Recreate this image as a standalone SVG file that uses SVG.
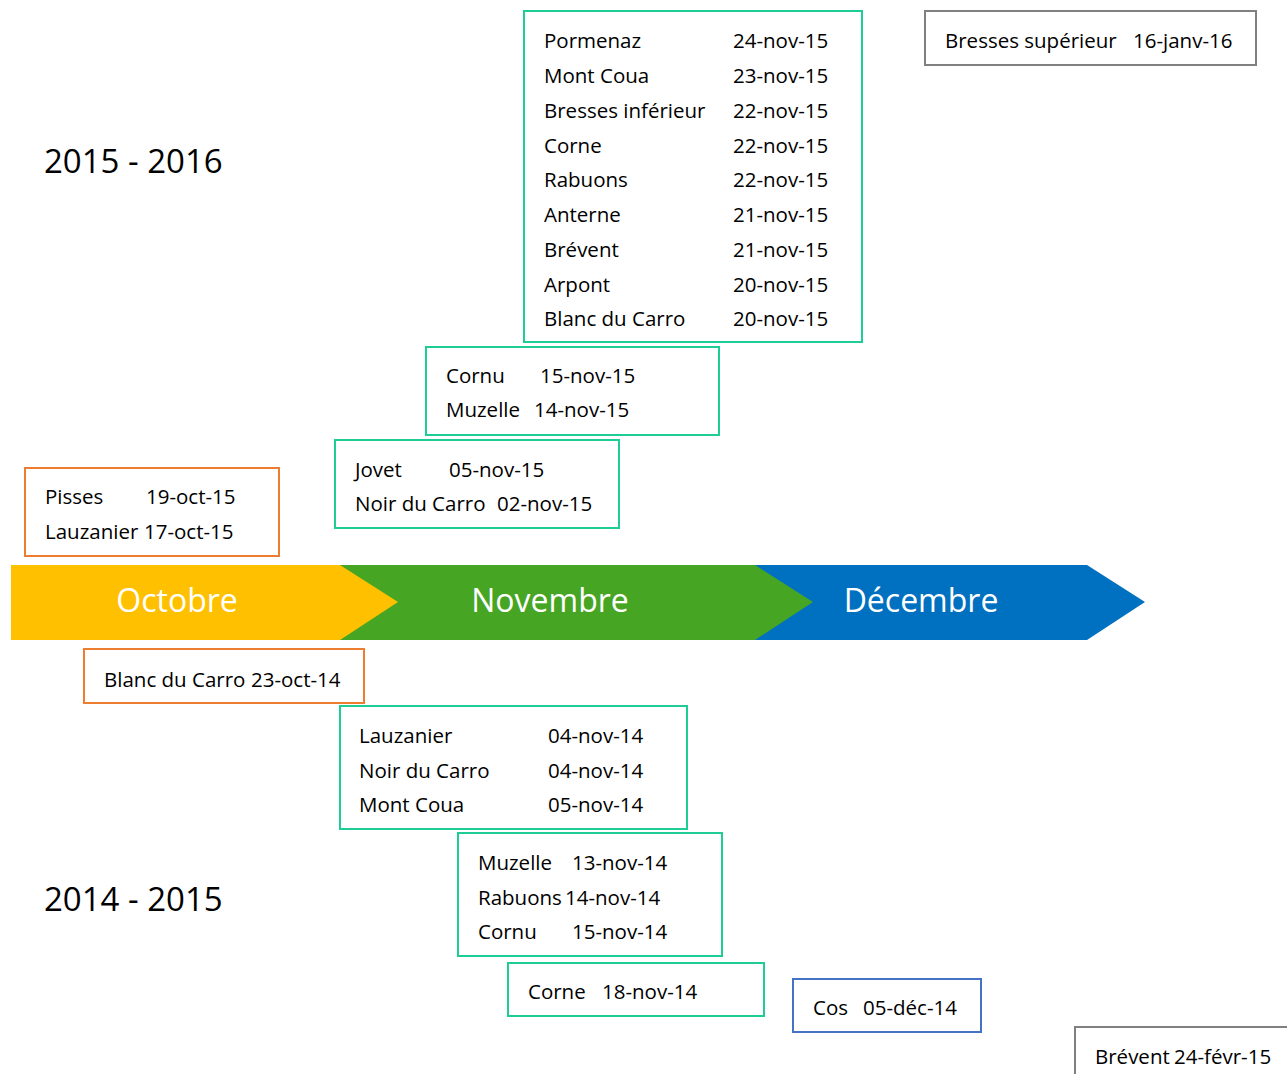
<svg xmlns="http://www.w3.org/2000/svg" width="1287" height="1074" viewBox="0 0 1287 1074">
<style>
text{font-family:"Open Sans","Noto Sans",sans-serif;font-size:20.5px;fill:#000}
.box{fill:#fff;stroke-width:2}
.teal{stroke:#1ECC96}
.orange{stroke:#ED7D31}
.blue{stroke:#4472C4}
.gray{stroke:#808080}
.year{font-size:33px}
.month{font-size:32px;fill:#fff;text-anchor:middle}
</style>
<rect width="1287" height="1074" fill="#fff"/>
<text class="year" x="44" y="173">2015 - 2016</text>
<text class="year" x="44" y="911">2014 - 2015</text>
<g id="timeline">
<g id="decembre"><polygon points="755,565 1087,565 1145,602 1087,640 755,640" fill="#0070C0"/><text class="month" x="921" y="612">Décembre</text></g>
<g id="novembre"><polygon points="340,565 755,565 813,602 755,640 340,640" fill="#47A524"/><text class="month" x="550" y="612">Novembre</text></g>
<g id="octobre"><polygon points="11,565 340,565 398,602 340,640 11,640" fill="#FFC000"/><text class="month" x="177" y="612">Octobre</text></g>
</g>
<g id="n2015-main">
<rect class="box teal" x="524" y="11" width="338" height="331"/>
<text x="544" y="48">Pormenaz</text><text x="733" y="48">24-nov-15</text>
<text x="544" y="83">Mont Coua</text><text x="733" y="83">23-nov-15</text>
<text x="544" y="118">Bresses inférieur</text><text x="733" y="118">22-nov-15</text>
<text x="544" y="153">Corne</text><text x="733" y="153">22-nov-15</text>
<text x="544" y="187">Rabuons</text><text x="733" y="187">22-nov-15</text>
<text x="544" y="222">Anterne</text><text x="733" y="222">21-nov-15</text>
<text x="544" y="257">Brévent</text><text x="733" y="257">21-nov-15</text>
<text x="544" y="292">Arpont</text><text x="733" y="292">20-nov-15</text>
<text x="544" y="326">Blanc du Carro</text><text x="733" y="326">20-nov-15</text>
</g>
<g id="bresses-sup">
<rect class="box gray" x="925" y="11" width="331" height="54"/>
<text x="945" y="48">Bresses supérieur</text><text x="1133" y="48">16-janv-16</text>
</g>
<g id="cornu15">
<rect class="box teal" x="426" y="347" width="293" height="88"/>
<text x="446" y="383">Cornu</text><text x="540" y="383">15-nov-15</text>
<text x="446" y="417">Muzelle</text><text x="534" y="417">14-nov-15</text>
</g>
<g id="jovet15">
<rect class="box teal" x="335" y="440" width="284" height="88"/>
<text x="355" y="477">Jovet</text><text x="449" y="477">05-nov-15</text>
<text x="355" y="511">Noir du Carro</text><text x="497" y="511">02-nov-15</text>
</g>
<g id="pisses15">
<rect class="box orange" x="25" y="468" width="254" height="88"/>
<text x="45" y="504">Pisses</text><text x="146" y="504">19-oct-15</text>
<text x="45" y="539">Lauzanier</text><text x="144" y="539">17-oct-15</text>
</g>
<g id="blanc14">
<rect class="box orange" x="84" y="649" width="280" height="54"/>
<text x="104" y="687">Blanc du Carro</text><text x="251" y="687">23-oct-14</text>
</g>
<g id="lauzanier14">
<rect class="box teal" x="340" y="706" width="347" height="123"/>
<text x="359" y="743">Lauzanier</text><text x="548" y="743">04-nov-14</text>
<text x="359" y="778">Noir du Carro</text><text x="548" y="778">04-nov-14</text>
<text x="359" y="812">Mont Coua</text><text x="548" y="812">05-nov-14</text>
</g>
<g id="muzelle14">
<rect class="box teal" x="458" y="833" width="264" height="123"/>
<text x="478" y="870">Muzelle</text><text x="572" y="870">13-nov-14</text>
<text x="478" y="905">Rabuons</text><text x="565" y="905">14-nov-14</text>
<text x="478" y="939">Cornu</text><text x="572" y="939">15-nov-14</text>
</g>
<g id="corne14">
<rect class="box teal" x="508" y="963" width="256" height="53"/>
<text x="528" y="999">Corne</text><text x="602" y="999">18-nov-14</text>
</g>
<g id="cos14">
<rect class="box blue" x="793" y="979" width="188" height="53"/>
<text x="813" y="1015">Cos</text><text x="863" y="1015">05-déc-14</text>
</g>
<g id="brevent15">
<rect class="box gray" x="1075" y="1027" width="220" height="60"/>
<text x="1095" y="1064">Brévent</text><text x="1174" y="1064">24-févr-15</text>
</g>
</svg>
